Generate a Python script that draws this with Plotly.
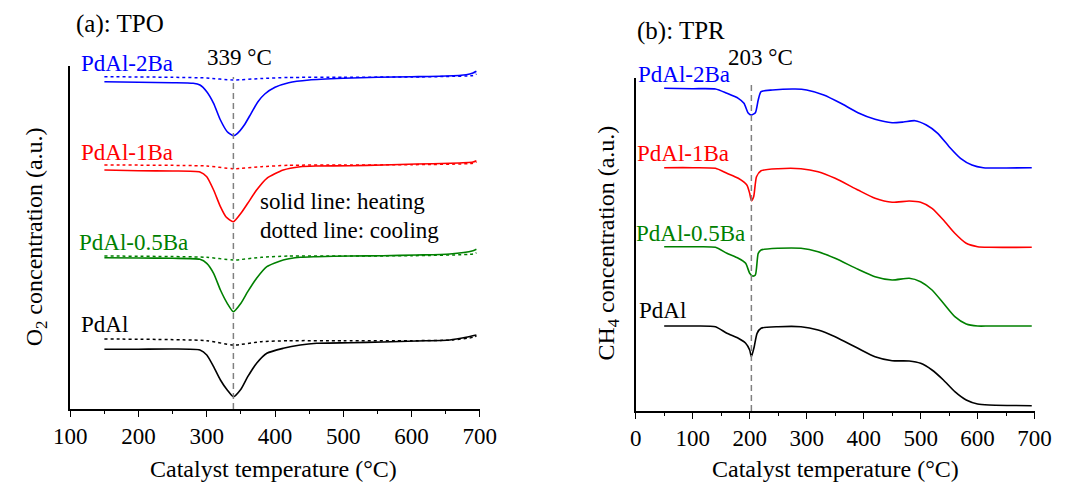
import plotly.graph_objects as go

W, H = 1070, 483
FONT = "Liberation Serif"

# ---------------- (a) TPO data : temperature (°C) vs O2 signal (a.u.) ----------------
tpo_2ba_heat_T = [150, 200, 250, 280, 290, 300, 310, 320, 330, 339, 345, 355, 365, 375, 385, 400, 420, 450, 500, 550, 600, 650, 680, 690, 695]
tpo_2ba_heat_y = [327.3, 326.7, 326.3, 325.7, 324, 317.3, 305.7, 289, 277.3, 273.3, 275.7, 284, 295.7, 307.3, 315, 321.7, 326.3, 329, 330.7, 331.7, 332.3, 333, 334.3, 336, 337.7]
tpo_2ba_cool_T = [150, 250, 300, 339, 380, 420, 500, 600, 650, 690, 695]
tpo_2ba_cool_y = [332.3, 331.7, 331, 329, 330.5, 331.5, 331.8, 332, 332.5, 333.5, 335]

tpo_1ba_heat_T = [150, 200, 250, 290, 300, 310, 320, 328, 339, 350, 360, 373, 388, 412, 437, 461, 510, 558, 607, 656, 690, 695]
tpo_1ba_heat_y = [239, 238.3, 238, 237, 232.3, 219, 202.3, 192.3, 187.3, 195.7, 205.7, 219, 230.7, 239, 242.3, 243, 243.3, 244, 245, 245.7, 247, 248.3]
tpo_1ba_cool_T = [150, 300, 339, 380, 420, 500, 600, 690, 695]
tpo_1ba_cool_y = [244, 243, 240.3, 242.3, 243.7, 244, 244.3, 245.7, 247]

tpo_05ba_heat_T = [150, 200, 250, 290, 300, 310, 320, 330, 339, 350, 360, 373, 388, 412, 437, 461, 510, 558, 607, 656, 690, 695]
tpo_05ba_heat_y = [151.3, 151, 150.7, 149.7, 145.7, 135.7, 119, 105.7, 97.3, 105.7, 117.3, 130.7, 142.3, 149, 151.7, 152.3, 153, 153.3, 154, 155, 158.3, 159.7]
tpo_05ba_cool_T = [150, 300, 339, 380, 420, 500, 600, 690, 695]
tpo_05ba_cool_y = [153, 151.7, 149, 151.7, 153, 153, 153.3, 155, 156.3]

tpo_pdal_heat_T = [150, 200, 250, 290, 300, 310, 320, 330, 339, 350, 360, 373, 388, 412, 437, 461, 510, 558, 607, 656, 680, 695]
tpo_pdal_heat_y = [59.7, 59.8, 60, 59, 54, 42.3, 29, 19, 12.3, 19.7, 32.3, 45.7, 55.7, 60.7, 64, 65.7, 66.3, 67, 68, 69, 71.7, 74]
tpo_pdal_cool_T = [150, 300, 339, 380, 420, 500, 600, 660, 690, 695]
tpo_pdal_cool_y = [70, 68.3, 64, 67.3, 68.3, 68.3, 68.3, 69, 71.7, 73]

tpo_peak_T = 339

# ---------------- (b) TPR data : temperature (°C) vs CH4 signal (a.u.) ----------------
tpr_2ba_T = [50, 100, 140, 160, 180, 190, 197, 203, 210, 215, 220, 240, 280, 300, 330, 360, 390, 420, 450, 470, 490, 510, 530, 550, 570, 590, 610, 650, 695]
tpr_2ba_y = [322.7, 322.3, 322, 317.7, 312.7, 307.7, 298.3, 296, 298.3, 311, 319.3, 321, 322, 321, 316, 307.7, 298.3, 291.7, 288.3, 289, 290.3, 286, 277.7, 264.3, 252.7, 246, 243.3, 243, 243.3]

tpr_1ba_T = [50, 100, 140, 160, 180, 195, 200, 203, 207, 212, 220, 250, 290, 320, 350, 390, 420, 450, 480, 500, 520, 540, 560, 580, 600, 620, 695]
tpr_1ba_y = [243.3, 243.3, 242.7, 237.7, 232.7, 226, 217.7, 210.3, 214.3, 234.3, 240.3, 242.3, 242.3, 239.3, 232.7, 221, 212.7, 208.7, 210, 208.7, 202.7, 191, 177.7, 167.7, 164.3, 163.7, 163.7]

tpr_05ba_T = [50, 100, 140, 160, 180, 193, 200, 205, 210, 215, 220, 250, 290, 320, 350, 390, 420, 450, 480, 500, 520, 540, 560, 580, 600, 620, 695]
tpr_05ba_y = [164.3, 164.2, 163.7, 157.7, 152.7, 147.7, 137.7, 135, 136, 157.7, 161, 162.7, 162.7, 159.3, 152.7, 141.7, 134.3, 131, 132.7, 129.3, 121, 107.7, 94.3, 87, 85, 85, 85]

tpr_pdal_T = [50, 100, 140, 160, 180, 193, 200, 203, 208, 213, 220, 250, 290, 320, 350, 390, 420, 450, 480, 500, 520, 540, 560, 580, 600, 620, 695]
tpr_pdal_y = [85, 85, 84.3, 77.7, 72.7, 67.7, 61, 54.3, 64.3, 77.7, 82.7, 84.3, 84.3, 81, 74.3, 62.7, 54.3, 50.3, 50, 47.7, 41, 31, 19.3, 11, 7, 6, 5.3]

tpr_peak_T = 203

BLUE, RED, GREEN, BLACK = "#0000ff", "#ff0000", "#008000", "#000000"

fig = go.Figure()

def line(x, y, color, dash="solid", axis=1, width=1.6):
    fig.add_trace(go.Scatter(
        x=x, y=y, mode="lines", showlegend=False, hoverinfo="skip",
        line=dict(color=color, width=width, dash=dash, shape="spline", smoothing=0.6),
        xaxis="x" if axis == 1 else "x2", yaxis="y" if axis == 1 else "y2"))

# panel (a)
for (hx, hy, cx, cy, c) in [
    (tpo_2ba_heat_T, tpo_2ba_heat_y, tpo_2ba_cool_T, tpo_2ba_cool_y, BLUE),
    (tpo_1ba_heat_T, tpo_1ba_heat_y, tpo_1ba_cool_T, tpo_1ba_cool_y, RED),
    (tpo_05ba_heat_T, tpo_05ba_heat_y, tpo_05ba_cool_T, tpo_05ba_cool_y, GREEN),
    (tpo_pdal_heat_T, tpo_pdal_heat_y, tpo_pdal_cool_T, tpo_pdal_cool_y, BLACK)]:
    line(cx, cy, c, dash="dot", width=1.5)
    line(hx, hy, c)

# panel (b)
for (x, y, c) in [(tpr_2ba_T, tpr_2ba_y, BLUE), (tpr_1ba_T, tpr_1ba_y, RED),
                  (tpr_05ba_T, tpr_05ba_y, GREEN), (tpr_pdal_T, tpr_pdal_y, BLACK)]:
    line(x, y, c, axis=2)

# dashed peak markers
fig.add_trace(go.Scatter(x=[tpo_peak_T, tpo_peak_T], y=[0, 332], mode="lines", showlegend=False,
                         hoverinfo="skip", line=dict(color="#808080", width=1.5, dash="6px,4px"),
                         xaxis="x", yaxis="y"))
fig.add_trace(go.Scatter(x=[tpr_peak_T, tpr_peak_T], y=[0, 329], mode="lines", showlegend=False,
                         hoverinfo="skip", line=dict(color="#808080", width=1.5, dash="6px,4px"),
                         xaxis="x2", yaxis="y2"))

def px(x):
    return x / W

def py(y):
    return 1 - y / H

xcommon = dict(showline=True, linecolor="black", linewidth=1.5, ticks="outside", ticklen=6,
               tickwidth=1.2, tickcolor="black", dtick=100, showgrid=False, zeroline=False,
               tickfont=dict(family=FONT, size=23, color="black"),
               minor=dict(ticks="outside", ticklen=3, tickwidth=1.2, tickcolor="black", dtick=50))
ycommon = dict(showline=True, linecolor="black", linewidth=1.5, ticks="", showticklabels=False,
               showgrid=False, zeroline=False)

fig.update_layout(
    width=W, height=H, margin=dict(l=0, r=0, t=0, b=0),
    paper_bgcolor="white", plot_bgcolor="white",
    font=dict(family=FONT, color="black"),
    xaxis=dict(domain=[px(55), px(478)], range=[100, 700], anchor="y", **xcommon),
    yaxis=dict(domain=[py(409), py(66)], range=[0, 343], anchor="x", **ycommon),
    xaxis2=dict(domain=[px(639), px(1051)], range=[0, 700], anchor="y2", **xcommon),
    yaxis2=dict(domain=[py(411), py(78)], range=[0, 333], anchor="x2", **ycommon),
)

def ann(text, x, y, size=23, color="black", xanchor="left", angle=0):
    fig.add_annotation(text=text, x=px(x), y=py(y), xref="paper", yref="paper",
                       xanchor=xanchor, yanchor="middle", showarrow=False, textangle=angle,
                       borderpad=0, font=dict(family=FONT, size=size, color=color))

# panel (a) texts
ann("(a): TPO", 60, 24, size=25)
ann("339 °C", 230, 57, size=23, xanchor="center")
ann("PdAl-2Ba", 65, 63, color=BLUE)
ann("PdAl-1Ba", 65, 152, color=RED)
ann("PdAl-0.5Ba", 63, 243, color=GREEN)
ann("PdAl", 65, 324, color=BLACK)
ann("solid line: heating", 250, 201)
ann("dotted line: cooling", 250, 230)
ann("O<sub>2</sub> concentration (a.u.)", 20, 237, size=24, xanchor="center", angle=-90)
ann("Catalyst temperature (°C)", 265, 469, size=24, xanchor="center")

# panel (b) texts
ann("(b): TPR", 639, 31, size=25)
ann("203 °C", 768, 57, xanchor="center")
ann("PdAl-2Ba", 640, 75, color=BLUE)
ann("PdAl-1Ba", 639, 153, color=RED)
ann("PdAl-0.5Ba", 638, 233, color=GREEN)
ann("PdAl", 641, 310, color=BLACK)
ann("CH<sub>4</sub> concentration (a.u.)", 610, 243, size=24, xanchor="center", angle=-90)
ann("Catalyst temperature (°C)", 845, 469, size=24, xanchor="center")

fig.write_html("out.html")
